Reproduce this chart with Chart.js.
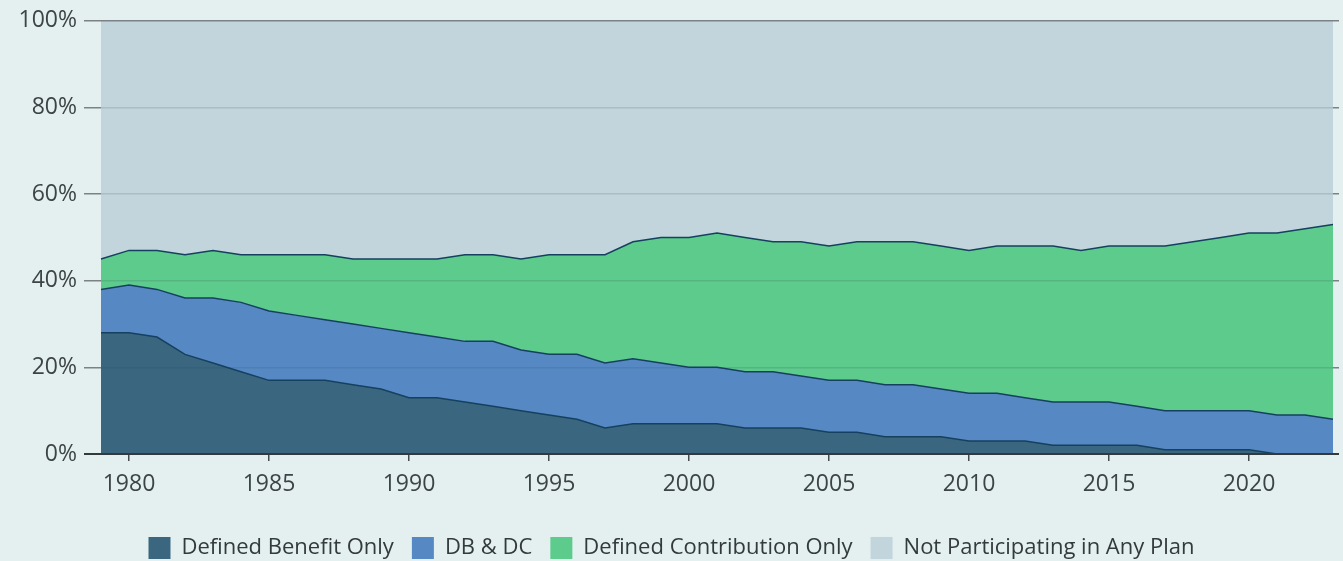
<!DOCTYPE html>
<html>
<head>
<meta charset="utf-8">
<script src="https://cdn.jsdelivr.net/npm/chart.js@4"></script>
<style>
  html, body { margin: 0; padding: 0; background: #e3f0ef; }
  #wrap { width: 1343px; height: 561px; }
</style>
</head>
<body>
<div id="wrap"><canvas id="chart"></canvas></div>
<script>
const years = [];
for (let y = 1979; y <= 2023; y++) years.push(y);

const dbOnly = [28, 28, 27, 23, 21, 19, 17, 17, 17, 16, 15, 13, 13, 12, 11, 10, 9, 8, 6, 7, 7, 7, 7, 6, 6, 6, 5, 5, 4, 4, 4, 3, 3, 3, 2, 2, 2, 2, 1, 1, 1, 1, 0, 0, 0];
const dbAndDc = [10, 11, 11, 13, 15, 16, 16, 15, 14, 14, 14, 15, 14, 14, 15, 14, 14, 15, 15, 15, 14, 13, 13, 13, 13, 12, 12, 12, 12, 12, 11, 11, 11, 10, 10, 10, 10, 9, 9, 9, 9, 9, 9, 9, 8];
const dcOnly = [7, 8, 9, 10, 11, 11, 13, 14, 15, 15, 16, 17, 18, 20, 20, 21, 23, 23, 25, 27, 29, 30, 31, 31, 30, 31, 31, 32, 33, 33, 33, 33, 34, 35, 36, 35, 36, 37, 38, 39, 40, 41, 42, 43, 45];
const notParticipating = dbOnly.map((v, i) => 100 - v - dbAndDc[i] - dcOnly[i]);

const yTicks = [0, 20, 40, 60, 80, 100];

const lineColor = '#16405f';
const font = "'Open Sans', sans-serif";

function gridColor(ctx) {
  const v = ctx.tick && ctx.tick.value;
  if (v === 0) return '#333a3d';
  if (v === 100) return '#7b8184';
  return 'rgba(40, 70, 85, 0.16)';
}

function tickColor(ctx) {
  const v = ctx.tick && ctx.tick.value;
  if (v === 0) return '#333a3d';
  return '#7b8184';
}

// push the legend row down a little without shrinking the plot
const legendShift = {
  id: 'legendShift',
  afterLayout(chart) {
    chart.legend.top += 8;
    chart.legend.bottom += 8;
  }
};

new Chart(document.getElementById('chart').getContext('2d'), {
  type: 'line',
  data: {
    labels: years,
    datasets: [
      {
        label: 'Defined Benefit Only',
        data: dbOnly,
        backgroundColor: '#3a677f',
        borderColor: lineColor,
        borderWidth: 1.5,
        fill: 'origin'
      },
      {
        label: 'DB & DC',
        data: dbAndDc,
        backgroundColor: '#5689c4',
        borderColor: lineColor,
        borderWidth: 1.5,
        fill: '-1'
      },
      {
        label: 'Defined Contribution Only',
        data: dcOnly,
        backgroundColor: '#5dcb8b',
        borderColor: lineColor,
        borderWidth: 1.5,
        fill: '-1'
      },
      {
        label: 'Not Participating in Any Plan',
        data: notParticipating,
        backgroundColor: '#c2d4dc',
        borderColor: '#c2d4dc',
        borderWidth: 0,
        fill: '-1'
      }
    ]
  },
  plugins: [legendShift],
  options: {
    responsive: true,
    maintainAspectRatio: false,
    animation: false,
    layout: {
      padding: { top: 20, right: 0, left: 0, bottom: 0 }
    },
    elements: {
      line: { tension: 0 },
      point: { radius: 0, hoverRadius: 0 }
    },
    scales: {
      x: {
        type: 'category',
        offset: false,
        grid: {
          drawOnChartArea: false,
          drawTicks: true,
          tickLength: 7,
          color: (ctx) => (years[ctx.index] % 5 === 0 ? '#444a4d' : 'rgba(0,0,0,0)'),
          lineWidth: 1.5
        },
        border: {
          display: true,
          color: '#333a3d',
          width: 2,
          z: 1
        },
        ticks: {
          autoSkip: false,
          maxRotation: 0,
          padding: 10,
          color: '#3d4447',
          font: { family: font, size: 23 },
          callback: (value, index) => (years[index] % 5 === 0 ? String(years[index]) : '')
        },
        afterFit: (scale) => { scale.height = 57; }
      },
      y: {
        stacked: true,
        min: 0,
        max: 100,
        afterBuildTicks: (scale) => { scale.ticks = yTicks.map((v) => ({ value: v })); },
        grid: {
          z: 1,
          color: gridColor,
          tickColor: tickColor,
          lineWidth: (ctx) => (ctx.tick && ctx.tick.value === 0 ? 2 : 1.5),
          tickLength: 17
        },
        border: { display: false },
        ticks: {
          padding: 7,
          color: '#3d4447',
          font: { family: font, size: 23 },
          callback: (value) => value + '%'
        },
        afterFit: (scale) => { scale.width = 101; }
      },
      y2: {
        position: 'right',
        min: 0,
        max: 100,
        afterBuildTicks: (scale) => { scale.ticks = yTicks.map((v) => ({ value: v })); },
        grid: {
          drawOnChartArea: false,
          tickLength: 6,
          color: tickColor,
          lineWidth: (ctx) => (ctx.tick && ctx.tick.value === 0 ? 2 : 1.5)
        },
        border: { display: false },
        ticks: { display: false },
        afterFit: (scale) => { scale.width = 6; }
      }
    },
    plugins: {
      legend: {
        position: 'bottom',
        labels: {
          boxWidth: 22,
          boxHeight: 22,
          padding: 18,
          color: '#333a3d',
          font: { family: font, size: 22 },
          generateLabels: (chart) => Chart.defaults.plugins.legend.labels.generateLabels(chart).map((item) => {
            item.lineWidth = 0;
            item.strokeStyle = item.fillStyle;
            return item;
          })
        }
      },
      tooltip: { enabled: false }
    }
  }
});
</script>
</body>
</html>
